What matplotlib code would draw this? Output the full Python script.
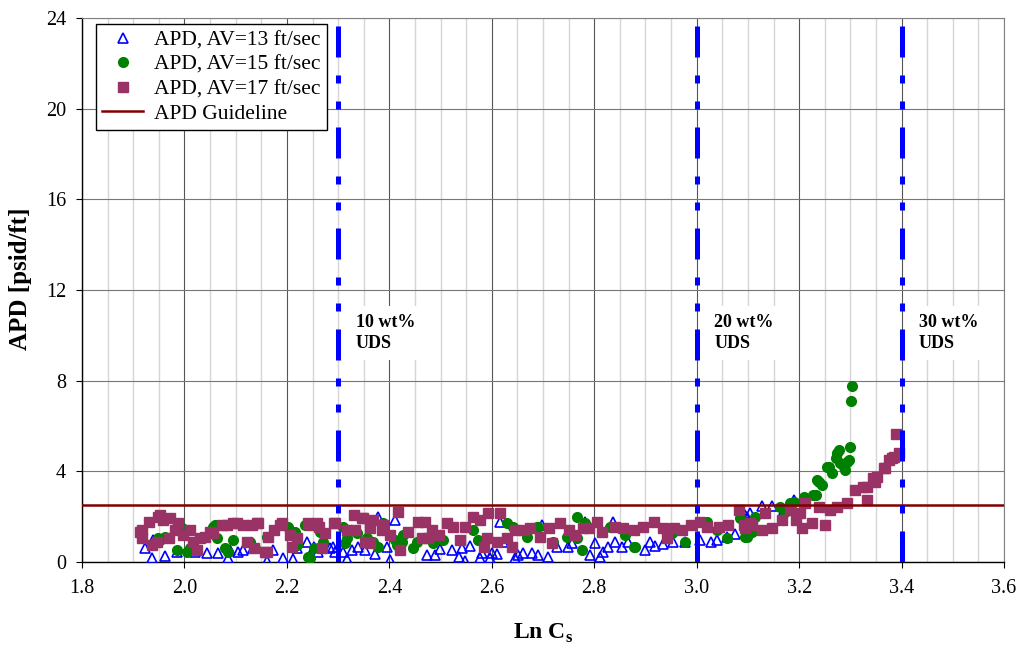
import matplotlib
matplotlib.use("Agg")
import matplotlib.pyplot as plt
from matplotlib.ticker import MultipleLocator

plt.rcParams['font.family'] = ['Liberation Serif', 'DejaVu Serif']
plt.rcParams['mathtext.fontset'] = 'custom'
plt.rcParams['mathtext.rm'] = 'Liberation Serif'
plt.rcParams['mathtext.bf'] = 'Liberation Serif:bold'

# APD at AV = 13 ft/sec
av13_x = [1.922, 1.936, 1.939, 1.962, 1.985, 2.021, 2.044, 2.066, 2.085, 2.089,
          2.105, 2.115, 2.134, 2.161, 2.173, 2.193, 2.212, 2.219, 2.239, 2.252,
          2.261, 2.284, 2.290, 2.294, 2.310, 2.317, 2.327, 2.339, 2.353, 2.372,
          2.378, 2.395, 2.402, 2.411, 2.473, 2.489, 2.499, 2.522, 2.535, 2.542,
          2.548, 2.558, 2.577, 2.581, 2.597, 2.600, 2.610, 2.616, 2.622, 2.646,
          2.651, 2.661, 2.678, 2.691, 2.698, 2.710, 2.727, 2.749, 2.756, 2.782,
          2.792, 2.802, 2.812, 2.818, 2.827, 2.837, 2.841, 2.854, 2.866, 2.900,
          2.909, 2.919, 2.935, 2.954, 2.978, 3.007, 3.027, 3.040, 3.060, 3.075,
          3.095, 3.098, 3.105, 3.127, 3.147, 3.170, 3.189]
av13_y = [0.60, 0.18, 0.97, 0.26, 0.45, 0.45, 0.40, 0.40, 0.18, 0.53,
          0.45, 0.53, 0.62, 0.06, 0.53, 0.18, 0.13, 0.62, 0.90, 0.67,
          0.45, 0.62, 0.67, 0.45, 0.45, 0.13, 0.53, 0.67, 0.53, 0.35,
          2.00, 0.67, 0.09, 1.85, 0.31, 0.31, 0.57, 0.53, 0.22, 0.62,
          0.05, 0.70, 0.18, 0.40, 0.18, 0.40, 0.35, 1.78, 0.90, 0.18,
          0.31, 0.41, 0.40, 0.31, 1.63, 0.22, 0.67, 0.67, 0.84, 1.78,
          0.31, 0.84, 0.22, 0.45, 0.67, 1.78, 0.90, 0.67, 0.90, 0.53,
          0.90, 0.70, 0.79, 0.90, 0.90, 0.97, 0.90, 0.97, 1.10, 1.25,
          2.07, 2.00, 2.16, 2.47, 2.47, 2.30, 2.73]

# APD at AV = 15 ft/sec
av15_x = [1.949, 1.952, 1.962, 1.985, 1.995, 2.004, 2.011, 2.056, 2.060, 2.063,
          2.079, 2.085, 2.095, 2.128, 2.138, 2.161, 2.202, 2.216, 2.219, 2.236,
          2.241, 2.245, 2.252, 2.265, 2.271, 2.310, 2.314, 2.317, 2.337, 2.356,
          2.368, 2.378, 2.388, 2.411, 2.415, 2.424, 2.427, 2.446, 2.454, 2.486,
          2.505, 2.564, 2.574, 2.630, 2.642, 2.669, 2.688, 2.691, 2.720, 2.747,
          2.766, 2.766, 2.776, 2.782, 2.831, 2.861, 2.877, 2.880, 2.952, 2.978,
          3.017, 3.020, 3.040, 3.059, 3.085, 3.095, 3.098, 3.101, 3.108, 3.114,
          3.163, 3.173, 3.183, 3.189, 3.209, 3.228, 3.232, 3.235, 3.239, 3.245,
          3.254, 3.258, 3.264, 3.271, 3.274, 3.277, 3.280, 3.287, 3.290, 3.293,
          3.297, 3.299, 3.301, 3.303]
av15_y = [1.04, 0.97, 1.12, 0.53, 1.49, 0.45, 0.60, 1.56, 1.63, 1.04,
          0.60, 0.45, 0.97, 0.90, 0.60, 1.12, 1.56, 1.34, 0.75, 1.63,
          0.24, 0.16, 0.60, 1.34, 0.90, 1.56, 0.82, 1.04, 1.27, 1.04,
          0.90, 0.67, 1.71, 0.97, 0.75, 0.90, 1.19, 0.60, 0.90, 0.82,
          0.97, 1.41, 0.97, 1.71, 1.56, 1.12, 1.56, 1.56, 0.90, 1.12,
          2.00, 1.04, 0.53, 1.71, 1.56, 1.19, 0.67, 0.67, 1.27, 0.90,
          1.71, 1.78, 1.41, 1.04, 1.93, 1.12, 1.12, 1.41, 1.34, 2.00,
          2.44, 2.22, 2.59, 2.66, 2.88, 2.96, 2.96, 3.62, 3.54, 3.40,
          4.20, 4.20, 3.91, 4.57, 4.79, 4.94, 4.35, 4.20, 4.06, 4.42,
          4.50, 5.06, 7.10, 7.76]

# APD at AV = 17 ft/sec
av17_x = [1.913, 1.917, 1.917, 1.930, 1.936, 1.946, 1.949, 1.952, 1.959, 1.969,
          1.972, 1.982, 1.988, 1.998, 2.011, 2.017, 2.024, 2.030, 2.040, 2.050,
          2.056, 2.073, 2.083, 2.095, 2.102, 2.115, 2.122, 2.131, 2.135, 2.141,
          2.144, 2.157, 2.161, 2.164, 2.174, 2.187, 2.190, 2.206, 2.210, 2.219,
          2.242, 2.245, 2.258, 2.262, 2.268, 2.275, 2.291, 2.294, 2.317, 2.330,
          2.333, 2.346, 2.349, 2.353, 2.362, 2.363, 2.369, 2.385, 2.388, 2.402,
          2.416, 2.421, 2.437, 2.455, 2.463, 2.470, 2.476, 2.483, 2.496, 2.512,
          2.525, 2.538, 2.548, 2.564, 2.577, 2.584, 2.590, 2.593, 2.610, 2.616,
          2.630, 2.640, 2.646, 2.662, 2.675, 2.695, 2.711, 2.717, 2.734, 2.750,
          2.763, 2.779, 2.789, 2.805, 2.815, 2.841, 2.857, 2.877, 2.896, 2.916,
          2.935, 2.942, 2.955, 2.971, 2.988, 3.007, 3.020, 3.043, 3.062, 3.082,
          3.092, 3.095, 3.105, 3.108, 3.127, 3.134, 3.147, 3.166, 3.183, 3.193,
          3.202, 3.206, 3.212, 3.225, 3.238, 3.251, 3.260, 3.274, 3.293, 3.310,
          3.325, 3.332, 3.333, 3.345, 3.349, 3.352, 3.365, 3.368, 3.375, 3.381,
          3.385, 3.394, 3.390]
av17_y = [1.34, 1.04, 1.41, 1.78, 0.75, 0.90, 2.00, 2.07, 1.85, 1.04,
          1.93, 1.41, 1.71, 1.19, 1.41, 0.90, 0.53, 1.04, 1.12, 1.34,
          1.27, 1.63, 1.63, 1.71, 1.71, 1.63, 0.90, 1.63, 0.60, 1.71,
          1.71, 0.45, 0.45, 1.12, 1.41, 1.63, 1.71, 1.19, 0.67, 1.04,
          1.71, 1.63, 1.71, 1.56, 0.60, 1.27, 1.71, 1.71, 1.41, 2.07,
          1.41, 1.93, 1.93, 0.90, 0.82, 1.49, 1.85, 1.41, 1.63, 1.19,
          2.22, 0.53, 1.34, 1.78, 1.04, 1.78, 1.04, 1.41, 1.19, 1.71,
          1.56, 0.97, 1.56, 2.00, 1.85, 0.67, 1.04, 2.15, 0.90, 2.15,
          1.04, 0.67, 1.41, 1.41, 1.49, 1.12, 1.49, 0.82, 1.71, 1.41,
          1.19, 1.49, 1.49, 1.78, 1.34, 1.56, 1.49, 1.41, 1.56, 1.78,
          1.49, 1.04, 1.49, 1.41, 1.63, 1.78, 1.56, 1.56, 1.63, 2.29,
          1.63, 1.49, 1.71, 1.63, 1.41, 2.15, 1.49, 1.85, 2.29, 1.85,
          2.15, 1.49, 2.59, 1.71, 2.44, 1.63, 2.29, 2.44, 2.59, 3.18,
          3.30, 3.32, 2.73, 3.70, 3.54, 3.76, 4.15, 4.13, 4.50, 4.60,
          4.64, 4.79, 5.65]

guideline = 2.5
uds_x = [2.3, 3.0, 3.4]
uds_labels = ['10 wt%\nUDS', '20 wt%\nUDS', '30 wt%\nUDS']

fig = plt.figure(figsize=(10.24, 6.51), dpi=100)
ax = fig.add_axes([0.0801, 0.1367, 0.9004, 0.8357])

ax.set_xlim(1.8, 3.6)
ax.set_ylim(0, 24)
ax.xaxis.set_major_locator(MultipleLocator(0.2))
ax.xaxis.set_minor_locator(MultipleLocator(0.05))
ax.yaxis.set_major_locator(MultipleLocator(4))
ax.xaxis.set_major_formatter(lambda v, p: f'{v:.1f}')

ax.grid(True, which='minor', axis='x', color='#d6d6d6', lw=1.0, zorder=0)
ax.grid(True, which='major', axis='x', color='#555555', lw=0.8, zorder=0)
ax.grid(True, which='major', axis='y', color='#777777', lw=0.8, zorder=0)
ax.set_axisbelow(True)
ax.tick_params(which='major', direction='out', length=4.5, width=0.8, labelsize=14.5)
ax.tick_params(which='minor', length=0)
ax.tick_params(axis='x', pad=8)
ax.tick_params(axis='y', pad=7)

for s in ['top', 'right']:
    ax.spines[s].set_color('#808080')
for s in ['left', 'bottom']:
    ax.spines[s].set_color('black')
    ax.spines[s].set_linewidth(1.0)

ax.plot(av13_x, av13_y, ls='none', marker='^', ms=7, mfc='none', mec='#0000ff',
        mew=1.2, label='APD, AV=13 ft/sec', zorder=3)
ax.plot(av15_x, av15_y, ls='none', marker='o', ms=7, mfc='#008000', mec='#008000',
        label='APD, AV=15 ft/sec', zorder=4)
ax.plot(av17_x, av17_y, ls='none', marker='s', ms=7, mfc='#993366', mec='#993366',
        label='APD, AV=17 ft/sec', zorder=5)
ax.axhline(guideline, color='#800000', lw=1.8, label='APD Guideline', zorder=6)

# dash - dot - dot markers for the UDS concentration limits
for xv in uds_x:
    ax.axvline(xv, color='#0000ff', lw=3.6,
               ls=(0, (6.2, 3.6, 1.6, 3.6, 1.6, 3.6)), zorder=7)

for xv, txt in zip(uds_x, uds_labels):
    ax.text(xv + 0.034, 10.1, txt, ha='left', va='center', fontsize=13,
            fontweight='bold', linespacing=1.25, zorder=8,
            bbox=dict(facecolor='white', edgecolor='none', pad=6))

ax.set_ylabel('APD [psid/ft]', fontsize=18, fontweight='bold')
ax.yaxis.set_label_coords(-0.054, 0.52)
ax.set_xlabel(r'Ln C$_\mathbf{s}$', fontsize=17, fontweight='bold', labelpad=17)

leg = ax.legend(loc='upper left', bbox_to_anchor=(0.015, 0.989), borderaxespad=0,
                fontsize=15.5, frameon=True, fancybox=False, framealpha=1,
                edgecolor='black', handlelength=1.9, handletextpad=0.5,
                labelspacing=0.2, borderpad=0.3)
leg.get_frame().set_linewidth(1.0)

fig.savefig('out.png', dpi=100)
